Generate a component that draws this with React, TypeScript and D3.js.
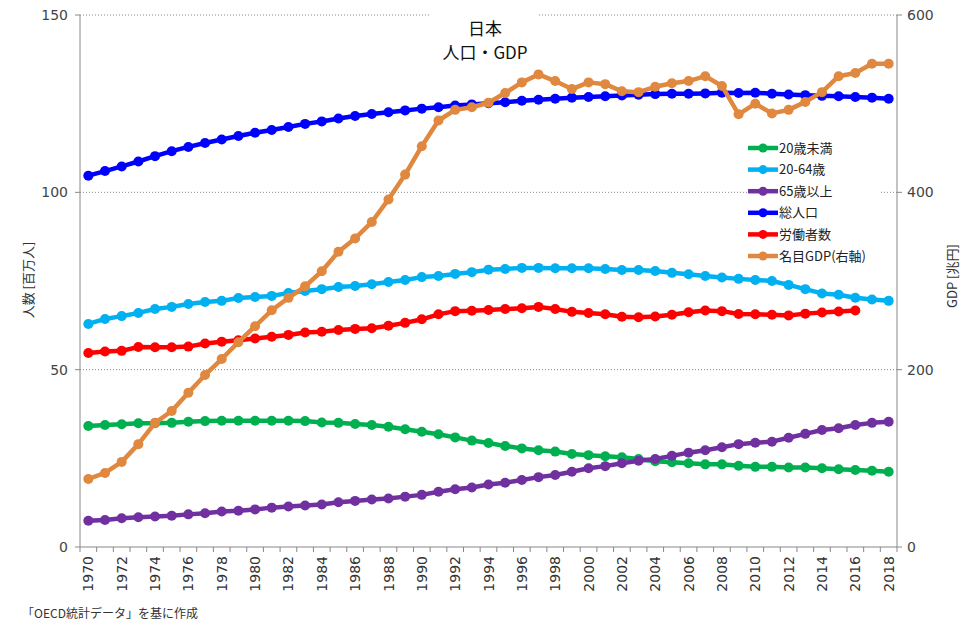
import React from "react";
import * as d3 from "d3";

const years = [
  "1970","1971","1972","1973","1974","1975","1976","1977","1978","1979",
  "1980","1981","1982","1983","1984","1985","1986","1987","1988","1989",
  "1990","1991","1992","1993","1994","1995","1996","1997","1998","1999",
  "2000","2001","2002","2003","2004","2005","2006","2007","2008","2009",
  "2010","2011","2012","2013","2014","2015","2016","2017","2018",
];

const under20 = [
  34.1,34.4,34.6,34.9,34.9,35.0,35.3,35.5,35.6,35.6,
  35.6,35.6,35.6,35.5,35.1,35.0,34.7,34.4,33.9,33.2,
  32.5,31.8,30.9,30.0,29.3,28.5,27.8,27.3,26.9,26.2,
  25.9,25.6,25.3,24.8,24.2,23.9,23.6,23.3,23.3,22.9,
  22.6,22.6,22.4,22.4,22.2,21.9,21.7,21.5,21.2,
];

const age20to64 = [
  62.9,64.3,65.1,66.0,67.1,67.7,68.5,69.1,69.4,70.2,
  70.5,70.8,71.6,72.2,72.7,73.3,73.6,74.1,74.7,75.3,
  76.1,76.4,77.0,77.5,78.2,78.4,78.7,78.7,78.6,78.6,
  78.6,78.4,78.1,78.1,77.8,77.3,76.9,76.4,76.0,75.6,
  75.3,75.0,73.9,72.7,71.5,71.1,70.3,69.8,69.4,
];

const over65 = [
  7.4,7.6,8.1,8.4,8.6,8.8,9.2,9.5,10.0,10.2,
  10.6,11.1,11.4,11.7,12.0,12.6,13.0,13.4,13.7,14.2,
  14.7,15.6,16.3,16.8,17.6,18.1,18.9,19.7,20.3,21.2,
  22.2,22.8,23.6,24.3,24.8,25.7,26.6,27.3,28.1,29.0,
  29.4,29.7,30.8,31.9,33.0,33.5,34.4,35.0,35.3,
];

const totalPop = [
  104.7,106.0,107.3,108.7,110.2,111.6,112.8,113.9,114.9,115.9,
  116.8,117.6,118.4,119.3,120.0,120.8,121.5,122.1,122.6,123.1,
  123.6,124.0,124.5,124.8,125.1,125.4,125.8,126.1,126.4,126.7,
  126.9,127.1,127.3,127.5,127.7,127.8,127.8,127.9,128.1,128.0,
  128.1,127.8,127.6,127.4,127.2,127.1,126.9,126.7,126.4,
];

const workers: (number | null)[] = [
  54.7,55.1,55.3,56.4,56.3,56.3,56.5,57.4,57.9,58.3,
  58.8,59.3,59.8,60.5,60.7,61.2,61.5,61.7,62.4,63.2,
  64.2,65.6,66.5,66.6,66.8,67.1,67.3,67.7,67.1,66.3,
  66.0,65.6,64.9,64.8,65.0,65.5,66.2,66.7,66.5,65.7,
  65.6,65.5,65.3,65.8,66.1,66.4,66.7,null,null,
];

const gdp = [
  76.7,83.5,96,116,140,153.4,174,194,212,231,
  249,267,281,294,311,333,348,366.5,392,420,
  452,481,493,496,501,512,524,533,525.5,516.5,
  524,522,514,513,519,523,525.5,531,520,488,
  500,489,493,502,513,531,534.5,545,545,
];

const leftTicks = [0, 50, 100, 150];
const rightTicks = [0, 200, 400, 600];
const xLabelYears = years.filter((_, i) => i % 2 === 0);

const seriesNames = ["20歳未満", "20-64歳", "65歳以上", "総人口", "労働者数", "名目GDP(右軸)"];
const seriesColors = ["#00b050", "#00b0f0", "#7030a0", "#0000ff", "#ff0000", "#e0883f"];
const seriesData: (number | null)[][] = [under20, age20to64, over65, totalPop, workers, gdp];
const seriesAxis = ["L", "L", "L", "L", "L", "R"];

const W = 978, H = 641;
const L = 80, R = 897, T = 15, B = 547;
const FONT = "'DejaVu Sans', 'Noto Sans CJK JP', sans-serif";
const JFONT = "'Noto Sans CJK JP', sans-serif";

export default function App() {
  const x = d3.scaleBand<string>().domain(years).range([L, R]);
  const bw = x.bandwidth();
  const cx = (y: string) => (x(y) as number) + bw / 2;
  const yL = d3.scaleLinear().domain([0, 150]).range([B, T]);
  const yR = d3.scaleLinear().domain([0, 600]).range([B, T]);

  const legendX = 748, legendY0 = 148, legendStep = 21.6;

  return (
    <div style={{ position: "absolute", left: 0, top: 0 }}>
      <svg width={W} height={H} style={{ display: "block", background: "#fff" }}>
        {/* gridlines */}
        {leftTicks.filter(t => t > 0).map(t => (
          <line key={t} x1={L} x2={R} y1={yL(t)} y2={yL(t)} stroke="#888" strokeWidth={1} strokeDasharray="1,2" />
        ))}
        {/* title background */}
        <rect x={430} y={8} width={109} height={58} fill="#fff" />
        {/* axes */}
        <line x1={L} x2={L} y1={T} y2={B} stroke="#888" />
        <line x1={R} x2={R} y1={T} y2={B} stroke="#888" />
        <line x1={L} x2={R} y1={B} y2={B} stroke="#888" />
        {leftTicks.map(t => (
          <g key={t}>
            <line x1={L - 5} x2={L} y1={yL(t)} y2={yL(t)} stroke="#888" />
            <text x={L - 12} y={yL(t)} dy="0.36em" textAnchor="end" fontSize={14} fontFamily={FONT} fill="#444">{t}</text>
          </g>
        ))}
        {rightTicks.map(t => (
          <g key={t}>
            <line x1={R} x2={R + 5} y1={yR(t)} y2={yR(t)} stroke="#888" />
            <text x={R + 10} y={yR(t)} dy="0.36em" textAnchor="start" fontSize={14} fontFamily={FONT} fill="#444">{t}</text>
          </g>
        ))}
        {years.map(y => (
          <line key={y} x1={x(y) as number} x2={x(y) as number} y1={B} y2={B + 5} stroke="#888" />
        ))}
        <line x1={R} x2={R} y1={B} y2={B + 5} stroke="#888" />
        {xLabelYears.map(y => (
          <text key={y} transform={`translate(${cx(y)},${B + 9}) rotate(-90)`} dy="0.36em" textAnchor="end" fontSize={14} fontFamily={FONT} fill="#333">{y}</text>
        ))}
        {/* axis titles */}
        <text transform={`translate(28,280) rotate(-90)`} textAnchor="middle" dy="0.36em" fontSize={13} fontFamily={JFONT} fill="#333">人数 [百万人]</text>
        <text transform={`translate(952,276) rotate(-90)`} textAnchor="middle" dy="0.36em" fontSize={13} fontFamily={JFONT} fill="#333">GDP [兆円]</text>
        {/* title */}
        <text x={485} y={35} textAnchor="middle" fontSize={17} fontFamily={JFONT} fill="#111">日本</text>
        <text x={485} y={59} textAnchor="middle" fontSize={17} fontFamily={JFONT} fill="#111">人口・GDP</text>
        {/* series */}
        {seriesData.map((data, si) => {
          const ys = seriesAxis[si] === "R" ? yR : yL;
          const pts = years.map((y, i) => ({ y, v: data[i] }));
          const line = d3.line<{ y: string; v: number | null }>()
            .defined(d => d.v != null)
            .x(d => cx(d.y))
            .y(d => ys(d.v as number));
          return (
            <g key={si}>
              <path d={line(pts) || ""} fill="none" stroke={seriesColors[si]} strokeWidth={4.5} strokeLinejoin="round" />
              {pts.filter(d => d.v != null).map(d => (
                <circle key={d.y} cx={cx(d.y)} cy={ys(d.v as number)} r={5} fill={seriesColors[si]} />
              ))}
            </g>
          );
        })}
        {/* legend */}
        <rect x={747} y={138} width={133} height={128} fill="#fff" />
        {seriesNames.map((n, i) => {
          const ly = legendY0 + i * legendStep;
          return (
            <g key={n}>
              <line x1={legendX} x2={legendX + 30} y1={ly} y2={ly} stroke={seriesColors[i]} strokeWidth={4.5} />
              <circle cx={legendX + 15} cy={ly} r={4.5} fill={seriesColors[i]} />
              <text x={legendX + 31} y={ly} dy="0.36em" fontSize={13} fontFamily={JFONT} fill="#222">{n}</text>
            </g>
          );
        })}
        {/* source */}
        <text x={22} y={618} fontSize={12} fontFamily={JFONT} fill="#333">「OECD統計データ」を基に作成</text>
      </svg>
    </div>
  );
}
